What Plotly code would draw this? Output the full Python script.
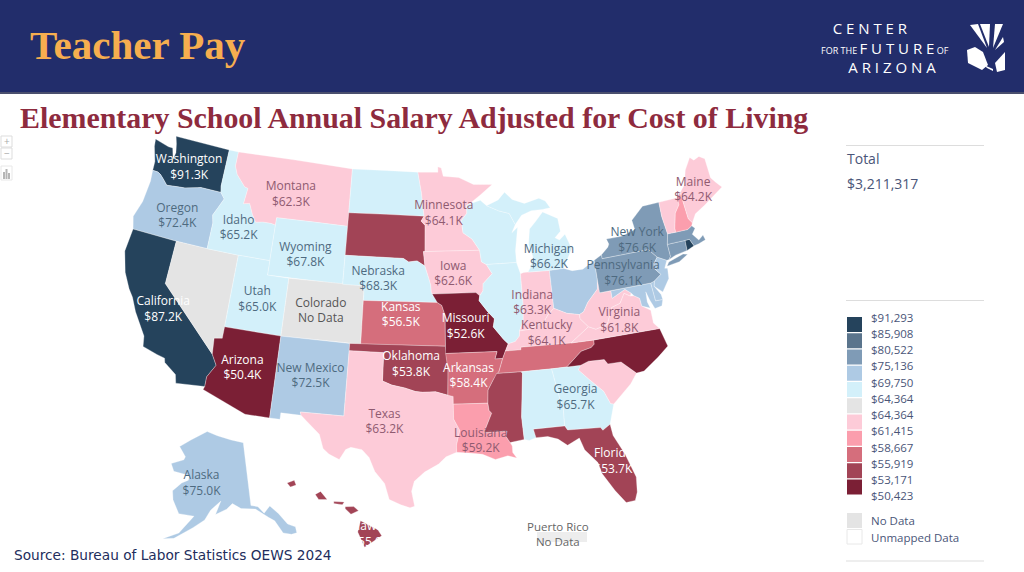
import plotly.graph_objects as go

# ---------- chart data ----------
STATE_CODES = ["WA","OR","CA","NV","ID","MT","WY","UT","CO","AZ","NM","ND","SD","NE","KS","OK","TX",
               "MN","IA","MO","AR","LA","WI","IL","IN","MI","OH","KY","TN","MS","AL","GA","FL","SC",
               "NC","VA","WV","MD","DE","PA","NJ","NY","CT","RI","MA","VT","NH","ME","AK","HI"]
SALARY_K = [91.3,72.4,87.2,None,65.2,62.3,67.8,65.0,None,50.4,72.5,66.0,54.5,68.3,56.5,53.8,63.2,
            64.1,62.6,52.6,58.4,59.2,66.0,66.0,63.3,66.2,72.0,64.1,57.0,54.5,66.0,65.7,53.7,62.0,
            51.0,61.8,62.0,71.0,72.0,76.1,73.0,76.6,78.0,88.0,77.0,63.0,60.0,64.2,75.0,55.0]
STATE_NAMES = {"WA":"Washington","OR":"Oregon","CA":"California","ID":"Idaho","MT":"Montana","WY":"Wyoming",
               "UT":"Utah","CO":"Colorado","AZ":"Arizona","NM":"New Mexico","NE":"Nebraska",
               "KS":"Kansas","OK":"Oklahoma","TX":"Texas","MN":"Minnesota","IA":"Iowa","MO":"Missouri",
               "AR":"Arkansas","LA":"Louisiana","IN":"Indiana","MI":"Michigan","KY":"Kentucky","GA":"Georgia",
               "FL":"Florida","VA":"Virginia","PA":"Pennsylvania","NY":"New York","ME":"Maine","AK":"Alaska","HI":"Hawaii"}
LEGEND_LABELS = ["$91,293","$85,908","$80,522","$75,136","$69,750","$64,364","$64,364","$61,415","$58,667","$55,919","$53,171","$50,423"]
LEGEND_COLORS = ["#25435C","#5A748C","#7F9BB6","#AECAE4","#D3F0FA","#E4E4E4","#FDCBD8","#FB9EAD","#D56E7C","#A24456","#7B1F35"]
BIN_UPPER_EDGES = [91.293,85.908,80.522,75.136,69.750,64.364,64.364,61.415,58.667,55.919,53.171]
NO_DATA_COLOR = "#E4E4E4"
TOTAL_VALUE = "$3,211,317"

# ---------- geography: simplified state outlines (lon, lat) ----------
OUTLINES = {
"WA":[[(-124.7,48.4),(-123.2,48.15),(-122.75,48.15),(-122.4,47.4),(-122.3,47.9),(-122.5,48.5),(-122.75,49),(-117.03,49),(-117.04,46.42),(-116.92,45.99),(-118.98,46),(-119.3,45.93),(-120.5,45.7),(-121.2,45.65),(-122.3,45.55),(-122.8,45.9),(-123.2,46.15),(-123.5,46.26),(-124.05,46.27),(-124.1,46.9),(-124.6,47.9)]],
"OR":[[(-124.05,46.27),(-123.5,46.26),(-123.2,46.15),(-122.8,45.9),(-122.3,45.55),(-121.2,45.65),(-120.5,45.7),(-119.3,45.93),(-118.98,46),(-116.92,45.99),(-116.46,45.6),(-116.85,44.95),(-117.22,44.35),(-117.03,43.8),(-117.03,42),(-120,42),(-124.21,42),(-124.55,42.84),(-124.1,44),(-123.95,45.5)]],
"CA":[[(-124.21,42),(-120,42),(-120,39),(-114.63,35),(-114.13,34.3),(-114.72,33.4),(-114.72,32.72),(-117.12,32.53),(-117.3,33.1),(-118.4,33.75),(-118.5,34.03),(-119.2,34.15),(-120.5,34.45),(-120.65,35.15),(-121.9,36.6),(-122.5,37.5),(-123,38),(-123.75,39),(-124.35,40.4)]],
"NV":[[(-120,42),(-117.03,42),(-114.04,42),(-114.04,37),(-114.05,36.2),(-114.74,36.1),(-114.63,35),(-120,39)]],
"ID":[[(-117.03,49),(-116.05,49),(-116.05,48),(-115.7,47.45),(-114.7,46.7),(-114.35,46.65),(-114.5,45.55),(-113.9,45.65),(-113.45,44.95),(-113,44.45),(-112.3,44.55),(-111.5,44.55),(-111.05,44.48),(-111.05,42),(-114.04,42),(-117.03,42),(-117.03,43.8),(-117.22,44.35),(-116.85,44.95),(-116.46,45.6),(-116.92,45.99),(-117.04,46.42)]],
"MT":[[(-116.05,49),(-104.05,49),(-104.05,45),(-111.05,45),(-111.05,44.48),(-111.5,44.55),(-112.3,44.55),(-113,44.45),(-113.45,44.95),(-113.9,45.65),(-114.5,45.55),(-114.35,46.65),(-114.7,46.7),(-115.7,47.45),(-116.05,48)]],
"WY":[[(-111.05,45),(-104.05,45),(-104.05,41),(-111.05,41)]],
"UT":[[(-114.04,42),(-111.05,42),(-111.05,41),(-109.05,41),(-109.05,37),(-114.04,37)]],
"CO":[[(-109.05,41),(-102.05,41),(-102.05,37),(-109.05,37)]],
"AZ":[[(-114.04,37),(-109.05,37),(-109.05,31.33),(-111.07,31.33),(-114.81,32.5),(-114.72,32.72),(-114.72,33.4),(-114.13,34.3),(-114.63,35),(-114.74,36.1),(-114.05,36.2)]],
"NM":[[(-109.05,37),(-103,37),(-103,36.5),(-103.04,32),(-106.62,32),(-106.53,31.78),(-108.2,31.78),(-108.2,31.33),(-109.05,31.33)]],
"ND":[[(-104.05,49),(-97.23,49),(-96.85,47.6),(-96.56,45.94),(-104.05,45.94)]],
"SD":[[(-104.05,45.94),(-96.56,45.94),(-96.85,45.6),(-96.45,45.3),(-96.45,43.5),(-96.6,43.5),(-96.45,42.5),(-97.2,42.85),(-98,42.77),(-98.5,43),(-104.05,43)]],
"NE":[[(-104.05,43),(-98.5,43),(-98,42.77),(-97.2,42.85),(-96.45,42.5),(-96.1,41.7),(-95.9,41.2),(-95.85,40.7),(-95.31,40),(-102.05,40),(-102.05,41),(-104.05,41)]],
"KS":[[(-102.05,40),(-95.31,40),(-94.9,39.8),(-94.61,39.11),(-94.62,37),(-102.04,37)]],
"OK":[[(-103,37),(-94.62,37),(-94.43,35.4),(-94.48,33.64),(-95.5,33.88),(-96.6,33.85),(-97.2,33.9),(-98.1,34.13),(-99.2,34.3),(-100,34.56),(-100,36.5),(-103,36.5)]],
"TX":[[(-106.62,32),(-103.04,32),(-103,36.5),(-100,36.5),(-100,34.56),(-99.2,34.3),(-98.1,34.13),(-97.2,33.9),(-96.6,33.85),(-95.5,33.88),(-94.48,33.64),(-94.04,33.55),(-94.04,33.02),(-94.04,32),(-93.55,31.2),(-93.85,30.2),(-93.85,29.7),(-94.7,29.4),(-95.3,28.9),(-96.4,28.35),(-97.2,27.7),(-97.4,27),(-97.15,25.96),(-97.5,25.85),(-98.2,26.05),(-99.1,26.4),(-99.5,27.5),(-100.3,28.3),(-100.8,29.25),(-101.4,29.77),(-102.3,29.88),(-102.7,29.7),(-103.15,28.98),(-104,29.3),(-104.5,29.65),(-104.9,30.6),(-106,31.4),(-106.53,31.78)]],
"MN":[[(-97.23,49),(-95.15,49),(-95.15,49.38),(-94.8,49.3),(-94.6,48.72),(-93,48.6),(-91.5,48.07),(-89.6,48),(-90.9,47.3),(-92.05,46.72),(-92.3,46.65),(-92.3,46.1),(-92.87,45.6),(-92.75,44.75),(-91.9,44.3),(-91.22,43.5),(-96.45,43.5),(-96.45,45.3),(-96.85,45.6),(-96.56,45.94),(-96.85,47.6)]],
"IA":[[(-96.45,43.5),(-91.22,43.5),(-91.1,42.7),(-90.65,42.5),(-90.15,41.85),(-91.05,41.2),(-91.1,40.7),(-91.42,40.38),(-91.75,40.61),(-95.77,40.58),(-95.85,40.7),(-95.9,41.2),(-96.1,41.7),(-96.45,42.5),(-96.6,43.5)]],
"MO":[[(-95.77,40.58),(-91.75,40.61),(-91.42,40.38),(-91.5,40.05),(-90.75,39.25),(-90.2,38.75),(-90.35,38.2),(-89.5,37.3),(-89.13,36.98),(-89.42,36.5),(-89.7,36),(-90.37,36),(-90.15,36.5),(-94.62,36.5),(-94.62,37),(-94.61,39.11),(-94.9,39.8),(-95.31,40)]],
"AR":[[(-94.62,36.5),(-90.15,36.5),(-90.37,36),(-89.7,36),(-90.1,35.1),(-90.6,34.6),(-91.1,33.9),(-91.17,33),(-94.04,33.02),(-94.04,33.55),(-94.48,33.64),(-94.43,35.4)]],
"LA":[[(-94.04,33.02),(-91.17,33),(-91.1,32.5),(-90.9,32.3),(-91.6,31),(-89.73,31),(-89.85,30.65),(-89.55,30.2),(-89.4,29.95),(-89.4,29.5),(-89.1,29.1),(-89.8,29.3),(-90.8,29.1),(-91.8,29.5),(-92.6,29.6),(-93.85,29.7),(-93.85,30.2),(-93.55,31.2),(-94.04,32)]],
"WI":[[(-92.05,46.72),(-90.9,46.95),(-90.3,46.55),(-89.1,46.13),(-88.1,45.9),(-87.6,45.1),(-88,44.55),(-87.4,44.9),(-87.55,44.3),(-87.8,43.3),(-87.8,42.49),(-90.65,42.5),(-91.1,42.7),(-91.22,43.5),(-91.9,44.3),(-92.75,44.75),(-92.87,45.6),(-92.3,46.1),(-92.3,46.65)]],
"IL":[[(-90.65,42.5),(-87.8,42.49),(-87.52,41.7),(-87.53,39.35),(-87.65,38.5),(-88.05,37.8),(-88.1,37.45),(-88.5,37.1),(-89.13,36.98),(-89.5,37.3),(-90.35,38.2),(-90.2,38.75),(-90.75,39.25),(-91.5,40.05),(-91.42,40.38),(-91.1,40.7),(-91.05,41.2),(-90.15,41.85)]],
"IN":[[(-87.52,41.7),(-87.2,41.76),(-86.8,41.76),(-84.8,41.72),(-84.81,39.1),(-85.4,38.7),(-85.8,38.28),(-86.3,38.15),(-87.1,37.85),(-88.05,37.8),(-87.65,38.5),(-87.53,39.35)]],
"MI":[[(-86.8,41.76),(-86.5,42.1),(-86.2,42.8),(-86.5,43.65),(-86.25,44.7),(-85.55,45.2),(-84.8,45.77),(-83.4,45.2),(-83.3,44.3),(-83.9,43.9),(-83.5,43.7),(-82.9,44.05),(-82.45,43),(-83.1,42.2),(-83.45,41.73),(-84.8,41.72)],
      [(-90.3,46.55),(-89.1,46.9),(-88.4,47.4),(-87.7,46.85),(-86.5,46.5),(-85,46.75),(-84.4,46.5),(-84,46),(-84.8,45.95),(-85.9,45.95),(-86.9,45.7),(-87.6,45.1),(-88.1,45.9),(-89.1,46.13)]],
"OH":[[(-84.8,41.72),(-83.45,41.73),(-82.7,41.5),(-81.7,41.5),(-80.52,41.98),(-80.52,40.64),(-80.65,40),(-81.7,39.2),(-82.2,38.6),(-82.6,38.45),(-83.7,38.65),(-84.81,39.1)]],
"KY":[[(-89.42,36.5),(-88.07,36.5),(-88.05,36.68),(-83.67,36.6),(-81.97,37.54),(-82.6,38.17),(-82.6,38.45),(-83.7,38.65),(-84.81,39.1),(-85.4,38.7),(-85.8,38.28),(-86.3,38.15),(-87.1,37.85),(-88.05,37.8),(-88.1,37.45),(-88.5,37.1),(-89.13,36.98)]],
"TN":[[(-89.7,36),(-89.42,36.5),(-88.07,36.5),(-88.05,36.68),(-83.67,36.6),(-81.68,36.59),(-81.7,36.3),(-82,36.1),(-82.9,35.95),(-84.3,35),(-85.6,35),(-88.2,35),(-90.3,35),(-90.1,35.1)]],
"MS":[[(-90.3,35),(-88.2,35),(-88.1,34.9),(-88.47,31.9),(-88.4,30.35),(-89.55,30.2),(-89.85,30.65),(-89.73,31),(-91.6,31),(-90.9,32.3),(-91.1,32.5),(-91.17,33),(-91.1,33.9),(-90.6,34.6)]],
"AL":[[(-88.2,35),(-85.6,35),(-85.18,32.87),(-85,32.3),(-85.05,31),(-87.6,31),(-87.45,30.4),(-88,30.25),(-88.4,30.35),(-88.47,31.9),(-88.1,34.9)]],
"GA":[[(-85.6,35),(-83.1,35),(-83.35,34.7),(-82.55,33.95),(-81.5,33),(-81.1,32.1),(-80.85,32.03),(-81.4,30.7),(-82.05,30.36),(-82.2,30.57),(-84.86,30.7),(-85.05,31),(-85,32.3),(-85.18,32.87)]],
"FL":[[(-87.6,31),(-85.05,31),(-84.86,30.7),(-82.2,30.57),(-82.05,30.36),(-81.4,30.7),(-81.3,29.9),(-80.6,28.5),(-80.03,26.8),(-80.15,25.75),(-80.4,25.2),(-81.1,25.15),(-81.8,26.1),(-82.6,27.4),(-82.8,28.2),(-83.7,29.2),(-84,30.05),(-85,29.65),(-85.7,30.15),(-86.5,30.4),(-87.45,30.4)]],
"SC":[[(-83.1,35),(-82.4,35.2),(-81.05,35.15),(-80.8,34.82),(-79.67,34.8),(-78.55,33.86),(-79.2,33.2),(-80.85,32.03),(-81.1,32.1),(-81.5,33),(-82.55,33.95),(-83.35,34.7)]],
"NC":[[(-84.3,35),(-82.9,35.95),(-82,36.1),(-81.7,36.3),(-81.68,36.59),(-75.87,36.55),(-75.5,35.25),(-76.5,34.65),(-77.9,33.9),(-78.55,33.86),(-79.67,34.8),(-80.8,34.82),(-81.05,35.15),(-82.4,35.2),(-83.1,35)]],
"VA":[[(-83.67,36.6),(-81.68,36.59),(-75.87,36.55),(-76.3,37),(-76.3,37.9),(-77,38.3),(-77.05,38.85),(-77.5,39.1),(-77.83,39.13),(-78.35,39.4),(-78.87,38.77),(-79.65,38.6),(-80.3,37.5),(-81.35,37.3),(-81.97,37.54)]],
"WV":[[(-82.6,38.17),(-81.97,37.54),(-81.35,37.3),(-80.3,37.5),(-79.65,38.6),(-78.87,38.77),(-78.35,39.4),(-77.83,39.13),(-77.72,39.32),(-78.2,39.65),(-79.48,39.2),(-79.48,39.72),(-80.52,39.72),(-80.52,40.64),(-80.65,40),(-81.7,39.2),(-82.2,38.6),(-82.6,38.45)]],
"MD":[[(-79.48,39.72),(-75.79,39.72),(-75.7,38.46),(-75.05,38.45),(-75.25,38.03),(-75.9,37.95),(-76.2,38.6),(-76.4,39.2),(-76.45,38.5),(-76.3,38.05),(-77,38.3),(-77.05,38.85),(-77.5,39.1),(-77.72,39.32),(-78.2,39.65),(-79.48,39.2)]],
"DE":[[(-75.79,39.72),(-75.42,39.8),(-75.55,39.45),(-75.1,38.8),(-75.05,38.45),(-75.7,38.46)]],
"PA":[[(-80.52,41.98),(-79.76,42.27),(-79.76,42),(-75.35,42),(-74.7,41.36),(-75.13,40.97),(-75.2,40.65),(-74.72,40.15),(-75.42,39.8),(-75.79,39.72),(-80.52,39.72)]],
"NJ":[[(-75.13,40.97),(-74.7,41.36),(-73.9,41),(-74.25,40.5),(-74,40.45),(-74.1,39.75),(-74.9,38.95),(-75.55,39.45),(-75.42,39.8),(-74.72,40.15),(-75.2,40.65)]],
"NY":[[(-79.76,42.27),(-79.05,42.7),(-78.9,42.9),(-79.05,43.27),(-77.5,43.27),(-76.2,43.55),(-76.3,44.2),(-75,45),(-73.35,45),(-73.4,44),(-73.25,42.75),(-73.5,42.05),(-73.48,41.2),(-73.7,41),(-73.9,41),(-74.7,41.36),(-75.35,42),(-79.76,42)],
      [(-74,40.6),(-73.75,40.85),(-72.3,41.15),(-71.9,41.05),(-72.8,40.7)]],
"CT":[[(-73.5,42.05),(-71.8,42.02),(-71.85,41.32),(-73,41.2),(-73.7,41),(-73.48,41.2)]],
"RI":[[(-71.8,42.02),(-71.38,42.02),(-71.12,41.5),(-71.85,41.32)]],
"MA":[[(-73.5,42.05),(-73.25,42.75),(-72.46,42.73),(-71.3,42.7),(-70.85,42.87),(-70.6,42.65),(-71,42.3),(-70.55,41.8),(-70.05,42.05),(-69.95,41.7),(-70.65,41.55),(-71.12,41.5),(-71.38,42.02),(-71.8,42.02)]],
"VT":[[(-73.35,45),(-71.5,45),(-71.5,44.5),(-72.05,44),(-72.45,43),(-72.46,42.73),(-73.25,42.75),(-73.4,44)]],
"NH":[[(-71.5,45),(-71.08,45.3),(-70.98,43.4),(-70.7,43.07),(-70.85,42.87),(-71.3,42.7),(-72.46,42.73),(-72.45,43),(-72.05,44),(-71.5,44.5)]],
"ME":[[(-71.08,45.3),(-70.4,45.8),(-70.25,46.2),(-70,46.7),(-69.23,47.46),(-68.9,47.2),(-68.3,47.35),(-67.8,47.07),(-67.8,45.7),(-67.45,45.3),(-67,44.85),(-68.5,44.25),(-69.1,44),(-70.2,43.6),(-70.7,43.07),(-70.98,43.4)]],
"AK":[[(-141,69.65),(-141,60.3),(-139,60),(-137.5,58.9),(-135.5,59.8),(-133.5,58.4),(-131.8,56.6),(-130,55.9),(-130.1,55),(-131.5,55),(-133.5,55.5),(-135,57.5),(-136.5,58.2),(-139.8,59.7),(-144,60),(-146.5,60.8),(-148.3,60),(-151.5,59.2),(-150,61.2),(-153,59.8),(-154.5,58.3),(-157.5,57),(-162,55),(-164.8,54.6),(-161,55.9),(-157.6,58.7),(-162,58.7),(-164.5,60.5),(-165.3,61.8),(-163,63.2),(-161,63.8),(-161,64.5),(-166.5,64.6),(-168.1,65.6),(-164,66.6),(-163.7,67.1),(-166.8,68.35),(-163,69.7),(-156.6,71.35),(-152,70.85),(-146,70.2)]],
"HI":[[(-155.9,20.25),(-155,19.8),(-154.8,19.5),(-155.7,18.95),(-156.05,19.7)],
      [(-156.7,20.95),(-156.25,20.95),(-156,20.75),(-156.4,20.58),(-156.7,20.85)],
      [(-157.3,21.2),(-156.75,21.18),(-156.85,21.05),(-157.3,21.1)],
      [(-158.28,21.55),(-158,21.7),(-157.65,21.3),(-158.1,21.3)],
      [(-159.78,22.1),(-159.4,22.23),(-159.3,22),(-159.6,21.9)]],
}
LABEL_ANCHORS = {"WA":(-120.6,47.13),"OR":(-120.5,43.65),"CA":(-119.6,37.2),"ID":(-114.5,43.8),"MT":(-110,46.7),
 "WY":(-107.8,42.7),"UT":(-111.6,39.2),"CO":(-105.8,39),"AZ":(-111.9,34.4),"NM":(-106.1,34.5),"TX":(-99.7,31.7),
 "OK":(-97.6,35.7),"KS":(-98.6,39.08),"NE":(-100.8,41.5),"MN":(-94.6,46.1),"IA":(-93.8,41.9),"MO":(-92.8,38.3),
 "AR":(-92.7,34.9),"LA":(-91.9,30.4),"MI":(-84.7,42.6),"IN":(-86.7,39.6),"KY":(-85.7,37.4),"VA":(-79.2,37.6),
 "GA":(-83.9,32.8),"FL":(-81.6,28.1),"NY":(-76.2,42.75),"PA":(-78.1,40.7),"ME":(-69.8,45.2),"AK":(-156.5,63.5),"HI":(-155.4,19.55)}
SUBPLOT_OF = {"AK":"geo2","HI":"geo3"}

W, H = 1024, 572
def px(x): return x / W
def py(y): return 1 - y / H

def bin_color(v):
    if v is None:
        return NO_DATA_COLOR
    for edge, c in zip(BIN_UPPER_EDGES[1:], LEGEND_COLORS[:-1]):
        if v >= edge:
            return c
    return LEGEND_COLORS[-1]

def clockwise(ring):
    area = sum(a[0]*b[1]-b[0]*a[1] for a, b in zip(ring, ring[1:]+ring[:1]))
    return ring if area < 0 else ring[::-1]

def luminance(hex_color):
    r, g, b = (int(hex_color[i:i+2], 16) for i in (1, 3, 5))
    return 0.299*r + 0.587*g + 0.114*b

fig = go.Figure()
values = dict(zip(STATE_CODES, SALARY_K))
for code in STATE_CODES:
    lons, lats = [], []
    for ring in OUTLINES[code]:
        r = clockwise(ring)
        r = r + r[:1]
        lons += [p[0] for p in r] + [None]
        lats += [p[1] for p in r] + [None]
    fig.add_trace(go.Scattergeo(lon=lons[:-1], lat=lats[:-1], mode="lines", fill="toself",
                                fillcolor=bin_color(values[code]), geo=SUBPLOT_OF.get(code, "geo"),
                                line=dict(color="rgba(255,255,255,0.6)", width=0.5),
                                name=code, hoverinfo="name", showlegend=False))

def label_style(c):
    v = values[c]
    col = bin_color(v)
    if luminance(col) < 145:
        tc = "#FFFFFF"
    elif col in LEGEND_COLORS[6:]:
        tc = "#8F5A70"
    else:
        tc = "#4E6A80" if v is not None else "#555555"
    return f"{STATE_NAMES[c]}<br>" + ("No Data" if v is None else f"${v:.1f}K"), tc

for geo_id in ("geo", "geo2", "geo3"):
    codes = [c for c in LABEL_ANCHORS if SUBPLOT_OF.get(c, "geo") == geo_id]
    styled = [label_style(c) for c in codes]
    fig.add_trace(go.Scattergeo(lon=[LABEL_ANCHORS[c][0] for c in codes], lat=[LABEL_ANCHORS[c][1] for c in codes],
                                mode="text", text=[s[0] for s in styled], textposition="middle center", geo=geo_id,
                                textfont=dict(family="Open Sans", size=12, color=[s[1] for s in styled]),
                                hoverinfo="skip", showlegend=False))

shapes, ann = [], []
def text(x, y, s, size, color, family="Open Sans", anchor="left", bold=False, align="left"):
    ann.append(dict(x=px(x), y=py(y), xref="paper", yref="paper", text=f"<b>{s}</b>" if bold else s,
                    showarrow=False, xanchor=anchor, yanchor="middle", align=align,
                    font=dict(family=family, size=size, color=color), borderpad=0))
def rect(x0, y0, x1, y1, fill, line=None):
    shapes.append(dict(type="rect", xref="paper", yref="paper", x0=px(x0), x1=px(x1), y0=py(y0), y1=py(y1),
                       fillcolor=fill, line=dict(color=line or fill, width=1 if line else 0), layer="below"))
def poly(pts, fill):
    d = "M" + " L".join(f"{px(x):.5f},{py(y):.5f}" for x, y in pts) + " Z"
    shapes.append(dict(type="path", path=d, xref="paper", yref="paper", fillcolor=fill, line=dict(width=0), layer="above"))
def hline(y):
    shapes.append(dict(type="line", xref="paper", yref="paper", x0=px(846), x1=px(984), y0=py(y), y1=py(y),
                       line=dict(color="#DDDDDD", width=1)))

NB = "\u00a0"
def spaced(s): return NB.join(s)

# banner
rect(0, 0, 1024, 92, "#222D6B")
rect(0, 92, 1024, 94, "#4A4F6E")
text(29, 45, "Teacher Pay", 41, "#F6AE4F", "Liberation Serif", bold=True)
text(19, 118, "Elementary School Annual Salary Adjusted for Cost of Living", 29.9, "#8E2B3E", "Liberation Serif", bold=True)
text(13, 555, "Source: Bureau of Labor Statistics OEWS 2024", 13.7, "#222D5C", "DejaVu Sans")
# logo
logo = (NB*3 + spaced("CENTER") + "<br>" +
        "<span style='font-size:9px'>FOR THE </span>" + spaced("FUTURE") + "<span style='font-size:9px'> OF</span><br>" +
        NB*7 + spaced("ARIZONA"))
text(820, 47, logo, 15, "#FFFFFF", "Open Sans")
poly([(970,25),(978,24),(987,48)], "#FFFFFF")
poly([(980,24),(990,24),(989,47)], "#FFFFFF")
poly([(995,24),(1003,24),(993,48)], "#FFFFFF")
poly([(1003,37),(1004,42),(995,50)], "#FFFFFF")
poly([(967,50),(975,47),(983,52),(988,65),(982,70),(968,63)], "#FFFFFF")
poly([(995,63),(1005,52),(1005,70),(997,72)], "#FFFFFF")
poly([(984,65),(993,69),(993,71),(987,68)], "#FFFFFF")
# total block
hline(145.5)
text(846, 159, "Total", 14, "#4A5578")
text(846, 183, TOTAL_VALUE, 14, "#4A5578")
# legend
hline(300.5); hline(561)
for i, c in enumerate(LEGEND_COLORS):
    rect(847, 317+16.25*i, 862, 332+16.25*i, c)
for i, s in enumerate(LEGEND_LABELS):
    text(870, 317+16.25*i, s, 11.5, "#4A5578")
rect(847, 513, 862, 528, NO_DATA_COLOR)
rect(847, 529.5, 862, 544, "#FFFFFF", "#E8E8E8")
text(870, 520.5, "No Data", 11.5, "#4A5578")
text(870, 537, "Unmapped Data", 11.5, "#4A5578")
# zoom controls
rect(1, 136, 12, 147, "#FFFFFF", "#DDDDDD")
rect(1, 148, 12, 159, "#FFFFFF", "#DDDDDD")
text(6.5, 141, "+", 10, "#AAAAAA", anchor="center")
text(6.5, 153, "−", 10, "#AAAAAA", anchor="center")
rect(1, 166, 12, 180, "#FFFFFF", "#E8E8E8")
rect(3, 172, 5, 179, "#B5B5B5")
rect(5.5, 169, 7.5, 179, "#B5B5B5")
rect(8, 173, 10, 179, "#B5B5B5")
# Puerto Rico sits outside the projection
rect(537, 532, 587, 542, "#EDEDED")
text(558, 534, "Puerto Rico<br>No Data", 11.5, "#666666", anchor="center", align="center")

BARE = dict(visible=False, showland=False, showlakes=False, showcountries=False, showcoastlines=False,
            showsubunits=False, showframe=False, showocean=False, showrivers=False, bgcolor="rgba(0,0,0,0)")
fig.update_layout(width=W, height=H, margin=dict(l=0, r=0, t=0, b=0), paper_bgcolor="#FFFFFF",
                  shapes=shapes, annotations=ann, showlegend=False,
                  geo=dict(scope="usa", projection=dict(type="albers usa"),
                           domain=dict(x=[px(46), px(800)], y=[py(559), py(84)]), **BARE),
                  geo2=dict(projection=dict(type="conic equal area", parallels=[55, 65], rotation=dict(lon=-152)),
                            fitbounds="locations", domain=dict(x=[px(119), px(329)], y=[py(569), py(409)]), **BARE),
                  geo3=dict(projection=dict(type="conic equal area", parallels=[19, 22], rotation=dict(lon=-157)),
                            fitbounds="locations", domain=dict(x=[px(249), px(419)], y=[py(572), py(456)]), **BARE))
fig.write_html("out.html", config={"displayModeBar": False},
               post_script="document.body.style.margin='0';document.body.style.overflow='hidden';")
